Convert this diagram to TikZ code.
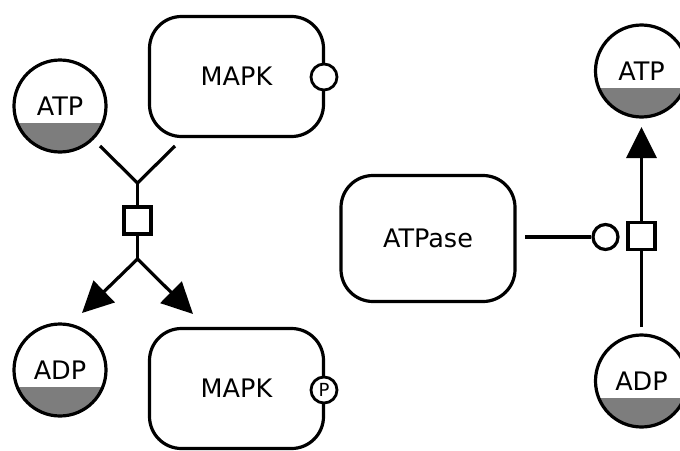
\documentclass[tikz,border=0pt]{standalone}
\usepackage{fontspec}
\setmainfont{DejaVu Sans}
\usetikzlibrary{arrows.meta,calc}
\definecolor{halffill}{RGB}{125,125,125}
\tikzset{
  lw/.style={line width=3.2pt},
  macro/.style={lw, draw, circle, minimum size=92pt, inner sep=0pt, fill=white,
    font=\fontsize{25.5}{30}\selectfont,
    path picture={\fill[halffill] ([yshift=-17pt]path picture bounding box.west) rectangle (path picture bounding box.south east);}},
  macrobox/.style={lw, draw, rounded corners=32pt, minimum width=174pt, minimum height=120pt, inner sep=0pt, fill=white,
    font=\fontsize{25.5}{30}\selectfont},
  procbox/.style={lw, draw, rectangle, minimum size=27pt, inner sep=0pt, fill=white},
  statevar/.style={line width=2.8pt, draw, circle, minimum size=26pt, inner sep=0pt, fill=white,
    font=\fontsize{18}{20}\selectfont},
  conn/.style={lw},
  prod/.style={lw, -{Triangle[length=31pt,width=30pt]}},
}
\begin{document}
\begin{tikzpicture}[x=1pt,y=-1pt]
\useasboundingbox (0,0) rectangle (680,450);
% left reaction
\node[macrobox] (mapk1) at (236.5,76.5) {MAPK};
\node[statevar] (sv1) at (324,77) {};
\node[macro] (atpL) at (60,106) {ATP};
\node[macro] (adpL) at (60,370) {ADP};
\node[macrobox] (mapk2) at (236.5,388.5) {MAPK};
\node[statevar] (sv2) at (324,390) {P};
\node[procbox] (pr1) at (137.5,220.5) {};
\coordinate (j1) at (137.5,183);
\coordinate (j2) at (137.5,259);
\coordinate (s1) at (100,146);
\coordinate (s2) at (175,146);
\coordinate (t1) at (82,313);
\coordinate (t2) at (193,314);
\draw[conn] (s1) -- (j1) -- (s2);
\draw[conn] (j1) -- (pr1.north);
\draw[conn] (pr1.south) -- (j2);
\draw[prod] (j2) -- (t1);
\draw[prod] (j2) -- (t2);
% right reaction
\node[macrobox, minimum height=126pt] (atpase) at (428,238.5) {ATPase};
\node[macro] (atpR) at (641.5,71) {ATP};
\node[macro] (adpR) at (641.5,381) {ADP};
\node[procbox] (pr2) at (641.5,236) {};
\node[lw, draw, circle, minimum size=25pt, inner sep=0pt, fill=white] (mod) at (605.5,237) {};
\coordinate (s3) at (525,237);
\coordinate (t3) at (641.5,127);
\coordinate (s4) at (641.5,327);
\draw[conn] (s3) -- (mod.west);
\draw[prod] (pr2.north) -- (t3);
\draw[conn] (s4) -- (pr2.south);
\end{tikzpicture}
\end{document}
